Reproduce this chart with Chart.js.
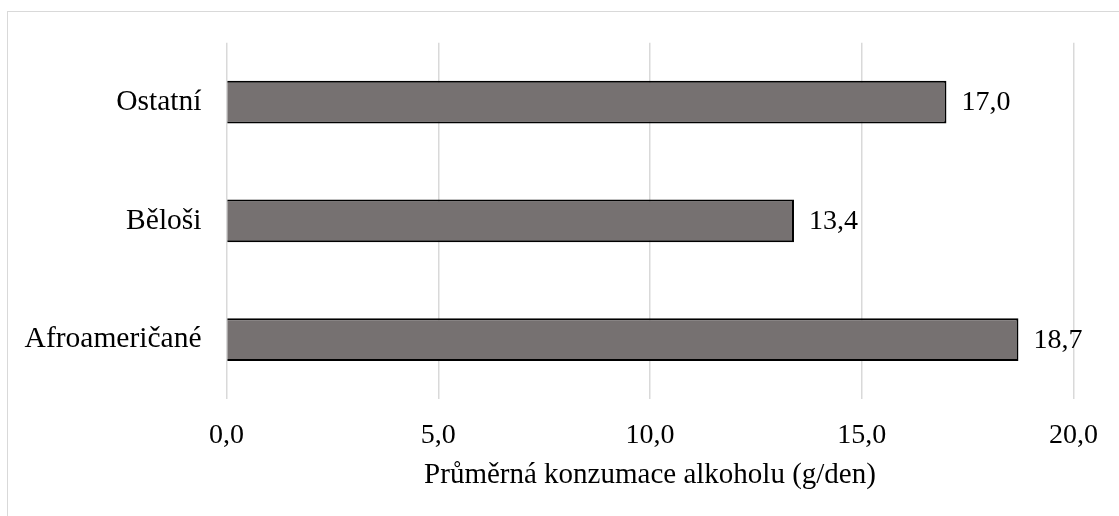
<!DOCTYPE html>
<html lang="cs">
<head>
<meta charset="utf-8">
<script src="https://cdn.jsdelivr.net/npm/chart.js@4.4.1/dist/chart.umd.min.js"></script>
<style>
  html, body { margin: 0; padding: 0; background: #ffffff; overflow: hidden; }
  #wrap { position: relative; width: 1119px; height: 516px; }
  #frame {
    position: absolute; left: 7px; top: 11px; width: 1200px; height: 600px;
    border: 1.5px solid #d9d9d9; box-sizing: border-box; pointer-events: none;
  }
  canvas { position: absolute; left: 0; top: 0; }
</style>
</head>
<body>
<div id="wrap">
  <div id="frame"></div>
  <canvas id="chart" width="1119" height="516"></canvas>
</div>
<script>
// Průměrná denní konzumace alkoholu podle skupiny
const categories = ['Ostatní', 'Běloši', 'Afroameričané'];
const values = [17.0, 13.4, 18.7];
const xTicks = [0, 5, 10, 15, 20];
const axisTitle = 'Průměrná konzumace alkoholu (g/den)';

const FONT = "'Liberation Serif', 'Times New Roman', serif";
const fmt = v => Number(v).toFixed(1).replace('.', ',');

// Hodnota vpravo od konce každého pruhu
const valueLabels = {
  id: 'valueLabels',
  afterDatasetsDraw(chart) {
    const ctx = chart.ctx;
    const meta = chart.getDatasetMeta(0);
    ctx.save();
    ctx.font = '28px ' + FONT;
    ctx.fillStyle = '#000000';
    ctx.textAlign = 'left';
    ctx.textBaseline = 'middle';
    meta.data.forEach((bar, i) => {
      ctx.fillText(fmt(values[i]), bar.x + 15, bar.y + 1);
    });
    ctx.restore();
  }
};

new Chart(document.getElementById('chart'), {
  type: 'bar',
  data: {
    labels: categories,
    datasets: [{
      data: values,
      backgroundColor: '#767171',
      borderColor: '#000000',
      borderWidth: 2,
      borderSkipped: 'start',
      categoryPercentage: 1,
      barPercentage: 0.36
    }]
  },
  options: {
    indexAxis: 'y',
    responsive: false,
    animation: false,
    events: [],
    layout: { padding: { top: 41, right: 45.5, left: 0, bottom: 0 } },
    plugins: { legend: { display: false }, tooltip: { enabled: false } },
    scales: {
      x: {
        min: 0, max: 20,
        afterBuildTicks(scale) { scale.ticks = xTicks.map(v => ({ value: v })); },
        afterFit(scale) { scale.height = 117; },
        grid: { color: '#d9d9d9', lineWidth: 1.5, drawTicks: false },
        border: { display: false },
        ticks: {
          padding: 20,
          color: '#000000',
          font: { family: FONT, size: 28 },
          callback: v => fmt(v)
        },
        title: {
          display: true,
          text: axisTitle,
          color: '#000000',
          font: { family: FONT, size: 29 },
          padding: { top: 0, bottom: 23 }
        }
      },
      y: {
        afterFit(scale) { scale.width = 226.5; },
        grid: { display: false, drawTicks: false },
        border: { display: false },
        ticks: {
          padding: 25,
          color: '#000000',
          font: { family: FONT, size: 29.5 }
        }
      }
    }
  },
  plugins: [valueLabels]
});
</script>
</body>
</html>
